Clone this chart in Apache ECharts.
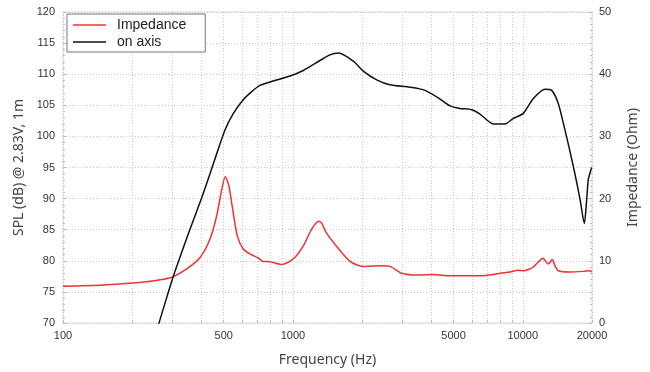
<!DOCTYPE html>
<html>
<head>
<meta charset="utf-8">
<script src="https://cdn.jsdelivr.net/npm/echarts@6/dist/echarts.min.js"></script>
<style>
html,body{margin:0;padding:0;background:#fff;}
#chart{width:650px;height:372px;}
</style>
</head>
<body>
<div id="chart"></div>
<script>
// On-axis SPL (dB) @ 2.83V, 1m
var splFreq = [250, 262, 300, 357, 400, 449, 506, 551, 608, 662, 719, 822, 971, 1110, 1312, 1449, 1576, 1832, 2024, 2314, 2645, 3231, 3755, 4291, 4822, 5331, 5994, 6516, 7443, 8369, 9094, 10049, 11115, 12495, 13356, 14263, 15264, 16585, 17740, 18515, 18969, 19280, 19940];
var splValues = [67.9, 70.1, 77.2, 85.1, 90.0, 95.4, 101.0, 103.7, 105.9, 107.2, 108.2, 108.9, 109.7, 110.6, 112.2, 113.1, 113.4, 112.1, 110.5, 109.1, 108.3, 107.9, 107.4, 106.2, 104.9, 104.5, 104.3, 103.6, 102.0, 102.0, 102.9, 103.7, 106.1, 107.6, 107.4, 105.3, 101.0, 95.2, 89.9, 86.0, 89.9, 93.1, 95.0];

// Impedance (Ohm)
var impFreq = [100, 150, 216, 239, 270, 300, 345, 394, 436, 466, 490, 508, 527, 547, 573, 608, 651, 707, 743, 782, 894, 1004, 1110, 1207, 1290, 1312, 1403, 1550, 1772, 2024, 2432, 2645, 2974, 3455, 4083, 4667, 5891, 6516, 7443, 7958, 8800, 9563, 10049, 10744, 11115, 11684, 12214, 12915, 13441, 13802, 14263, 16040, 18340, 19600, 20000];
var impValues = [5.9, 6.1, 6.5, 6.7, 7.0, 7.4, 8.7, 10.5, 13.5, 17.2, 21.4, 23.5, 22.0, 18.3, 14.0, 11.9, 11.1, 10.45, 9.9, 9.9, 9.4, 10.3, 12.4, 15.1, 16.3, 16.3, 14.4, 12.3, 9.9, 9.1, 9.2, 9.1, 8.0, 7.7, 7.8, 7.6, 7.6, 7.6, 7.8, 8.0, 8.2, 8.5, 8.4, 8.7, 9.0, 9.8, 10.4, 9.5, 10.2, 9.2, 8.4, 8.2, 8.3, 8.4, 8.2];

var xLabelValues = [100, 500, 1000, 5000, 10000, 20000];
var xGridValues = [100, 200, 300, 400, 500, 600, 700, 800, 900, 1000, 2000, 3000, 4000, 5000, 6000, 7000, 8000, 9000, 10000, 20000];
var splTicks = [70, 75, 80, 85, 90, 95, 100, 105, 110, 115, 120];
var impTicks = [0, 10, 20, 30, 40, 50];

function zip(a, b) { return a.map(function (v, i) { return [v, b[i]]; }); }
function plain(v) { return String(Math.round(v)); }

var chart = echarts.init(document.getElementById('chart'), null, {renderer: 'canvas'});
var labelFont = {fontFamily: 'Liberation Sans', fontSize: 11, color: '#333'};
var nameFont = {fontFamily: 'Noto Sans', fontSize: 14, color: '#444'};
var gridLine = {show: true, lineStyle: {color: '#c8c8c8', type: [1, 2], width: 1}};

chart.setOption({
  animation: false,
  backgroundColor: '#fff',
  grid: {left: 63, right: 58, top: 12, bottom: 47, show: true, borderColor: '#dadada', borderWidth: 1},
  legend: {
    left: 67, top: 14, orient: 'vertical',
    backgroundColor: '#fff', borderColor: '#777', borderWidth: 1, borderRadius: 0,
    padding: [3, 19, 2, 6], itemGap: 1, itemWidth: 33, itemHeight: 1.5, icon: 'rect',
    textStyle: {fontFamily: 'Liberation Sans', fontSize: 14, color: '#222', lineHeight: 16, padding: [0, 0, 0, 6]},
    data: ['Impedance', 'on axis']
  },
  xAxis: {
    type: 'log', logBase: 10, min: 100, max: 20000,
    name: 'Frequency (Hz)', nameLocation: 'middle', nameGap: 30, nameTextStyle: nameFont,
    axisLine: {show: false},
    axisTick: {show: true, inside: true, length: 3, lineStyle: {color: '#bbb'}, customValues: xGridValues},
    axisLabel: Object.assign({customValues: xLabelValues, margin: 7, formatter: plain}, labelFont),
    splitLine: gridLine,
    minorTick: {show: false}, minorSplitLine: {show: false}
  },
  yAxis: [{
    type: 'value', min: 70, max: 120, interval: 5, position: 'left',
    name: 'SPL (dB) @ 2.83V, 1m', nameLocation: 'middle', nameGap: 36, nameTextStyle: nameFont,
    axisLine: {show: false},
    axisTick: {show: true, inside: true, length: 3, lineStyle: {color: '#bbb'}, customValues: splTicks},
    minorTick: {show: true, splitNumber: 5, length: 2, lineStyle: {color: '#bbb'}},
    axisLabel: Object.assign({margin: 8, customValues: splTicks, formatter: plain}, labelFont),
    splitLine: gridLine
  }, {
    type: 'value', min: 0, max: 50, interval: 10, position: 'right',
    name: 'Impedance (Ohm)', nameLocation: 'middle', nameGap: 34, nameTextStyle: nameFont,
    axisLine: {show: false},
    axisTick: {show: true, inside: true, length: 3, lineStyle: {color: '#bbb'}, customValues: impTicks},
    minorTick: {show: true, splitNumber: 10, length: 2, lineStyle: {color: '#bbb'}},
    axisLabel: Object.assign({margin: 7, customValues: impTicks, formatter: plain}, labelFont),
    splitLine: {show: false}
  }],
  series: [{
    name: 'Impedance', type: 'line', yAxisIndex: 1,
    data: zip(impFreq, impValues),
    showSymbol: false, smooth: 0.25,
    lineStyle: {color: '#f03232', width: 1.5}, itemStyle: {color: '#f03232'}, z: 3
  }, {
    name: 'on axis', type: 'line', yAxisIndex: 0,
    data: zip(splFreq, splValues),
    showSymbol: false, smooth: 0.25, clip: true,
    lineStyle: {color: '#111', width: 1.5}, itemStyle: {color: '#111'}, z: 4
  }]
});
</script>
</body>
</html>
